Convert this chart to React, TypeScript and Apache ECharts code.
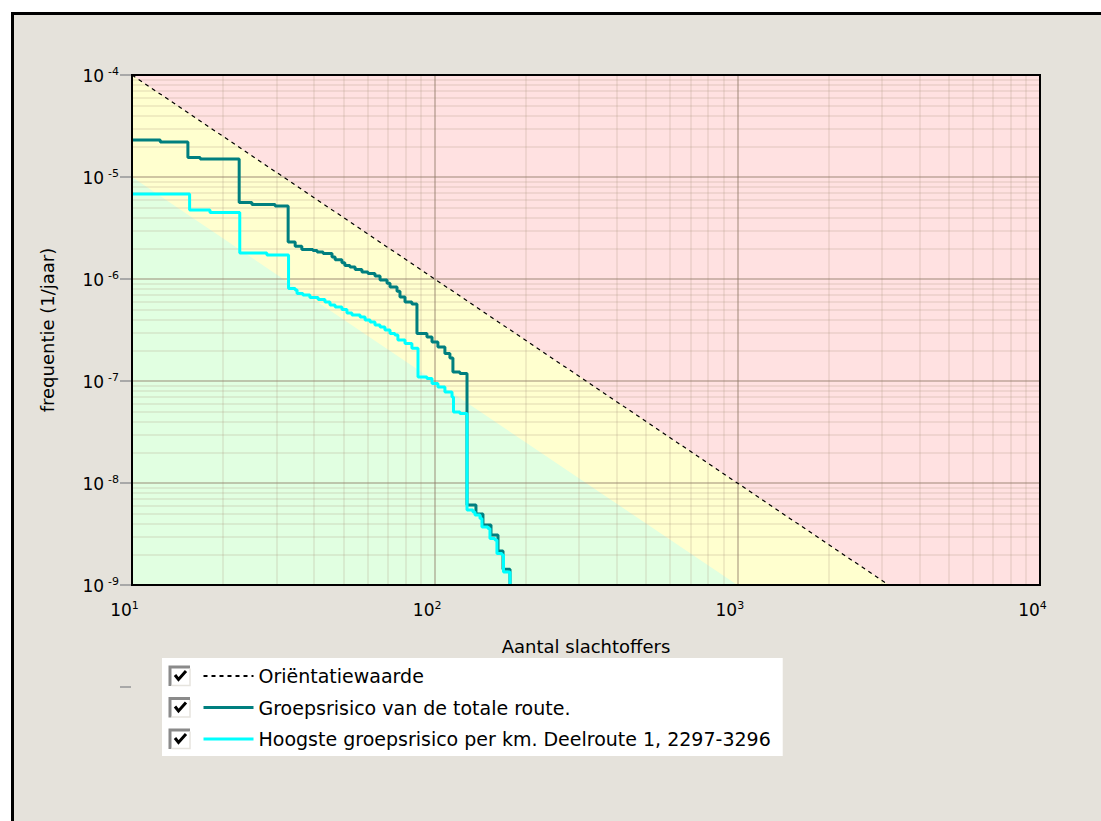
import React, { useEffect, useRef } from "react";
import * as echarts from "echarts";

// Axis ranges (log scale)
const X_MIN = 10;
const X_MAX = 10000;
const Y_MIN = 1e-9;
const Y_MAX = 1e-4;

// Reference lines / zones
const PINK_N = [10, 10000];
const PINK_F = [1e-4, 1e-4];
const ORIENT_N = [10, 3162.28];
const ORIENT_F = [1e-4, 1e-9];
const GREEN_N = [10, 1000];
const GREEN_F = [1e-5, 1e-9];

// Groepsrisico van de totale route (step curve)
const TOTAL_N = [10, 12.4, 15.3, 16.8, 22.6, 24.9, 29.7, 32.8, 34.6, 36.4, 39.6, 40.9, 42.8, 45.8, 46.9, 49.4, 50.5, 52.5, 54.6, 57.5, 60.2, 63.5, 66.0, 69.6, 71.2, 75.1, 76.8, 79.8, 84.1, 87.4, 94.3, 98.0, 102.5, 108.1, 112.3, 114.9, 121.2, 127.9, 136.9, 144.4, 153.5, 161.9, 168.2, 177.4];
const TOTAL_F = [2.31e-5, 2.2e-5, 1.55e-5, 1.5e-5, 5.62e-6, 5.37e-6, 5.2e-6, 2.31e-6, 2.1e-6, 1.95e-6, 1.9e-6, 1.84e-6, 1.78e-6, 1.64e-6, 1.54e-6, 1.44e-6, 1.36e-6, 1.31e-6, 1.24e-6, 1.17e-6, 1.13e-6, 1.07e-6, 9.8e-7, 9.1e-7, 8.35e-7, 7.6e-7, 6.66e-7, 5.95e-7, 5.69e-7, 2.92e-7, 2.7e-7, 2.41e-7, 2.15e-7, 1.86e-7, 1.68e-7, 1.225e-7, 1.185e-7, 6.08e-9, 4.97e-9, 3.88e-9, 3.09e-9, 2.15e-9, 1.43e-9, 1e-9];

// Hoogste groepsrisico per km (step curve)
const KM_N = [10, 15.5, 18.1, 22.7, 27.9, 32.9, 34.6, 35.1, 36.7, 38.7, 41.2, 43.4, 45.1, 46.9, 49.4, 51.3, 53.3, 56.7, 58.9, 61.2, 63.5, 66.0, 68.5, 71.2, 73.9, 75.6, 79.8, 84.1, 88.1, 94.3, 98.0, 102.5, 108.1, 114.1, 115.4, 121.2, 127.9, 133.8, 135.9, 141.2, 143.3, 150.0, 152.3, 158.2, 160.6, 166.9, 168.8, 177.4];
const KM_F = [6.81e-6, 4.75e-6, 4.49e-6, 1.8e-6, 1.72e-6, 8.07e-7, 7.8e-7, 7.21e-7, 6.97e-7, 6.59e-7, 6.3e-7, 5.95e-7, 5.56e-7, 5.31e-7, 5.02e-7, 4.64e-7, 4.44e-7, 4.24e-7, 3.96e-7, 3.79e-7, 3.54e-7, 3.38e-7, 3.16e-7, 2.92e-7, 2.82e-7, 2.52e-7, 2.33e-7, 2.1e-7, 1.094e-7, 1.058e-7, 9.45e-8, 8.73e-8, 7.8e-8, 6.97e-8, 4.97e-8, 4.8e-8, 5.43e-9, 5.2e-9, 4.86e-9, 4.49e-9, 3.7e-9, 3.58e-9, 2.86e-9, 2.76e-9, 2.04e-9, 1.97e-9, 1.34e-9, 1e-9];

// Minor grid multipliers per decade
const MINOR_MULTS = [2, 3, 4, 5, 6, 7, 8, 9];
const X_DECADES = [10, 100, 1000];
const Y_DECADES = [1e-9, 1e-8, 1e-7, 1e-6, 1e-5];

const NAME_ORIENT = "Oriëntatiewaarde";
const NAME_TOTAL = "Groepsrisico van de totale route.";
const NAME_KM = "Hoogste groepsrisico per km. Deelroute 1, 2297-3296";

const FONT = "DejaVu Sans";

export default function App() {
  const ref = useRef<HTMLDivElement>(null);

  useEffect(() => {
    if (!ref.current) return;
    const chart = echarts.init(ref.current, null, { renderer: "svg" });
    const zip = (a: number[], b: number[]) => a.map((v, i) => [v, b[i]]);
    const minorX = X_DECADES.flatMap((d) => MINOR_MULTS.map((m) => m * d));
    const minorY = Y_DECADES.flatMap((d) => MINOR_MULTS.map((m) => m * d));
    const exp = (v: number) => Math.round(Math.log10(v));

    const rowCenters = [676, 707.5, 739];
    const checkboxes = rowCenters.flatMap((c) => [
      { type: "rect", z: 20, silent: true, shape: { x: 169, y: c - 10, width: 21, height: 20 }, style: { fill: "#ffffff" } },
      { type: "polyline", z: 21, silent: true, shape: { points: [[170, c + 10], [170, c - 9], [190, c - 9]] }, style: { stroke: "#8a8a8a", lineWidth: 3, fill: "none" } },
      { type: "polyline", z: 21, silent: true, shape: { points: [[171.5, c + 9.5], [190, c + 9.5], [190, c - 7.5]] }, style: { stroke: "#e6e4de", lineWidth: 1.5, fill: "none" } },
      { type: "polyline", z: 22, silent: true, shape: { points: [[175, c - 1], [178.5, c + 3.5], [186, c - 5]] }, style: { stroke: "#000000", lineWidth: 3, fill: "none" } },
    ]);

    const minorLines = [
      ...minorX.map((v) => [{ coord: [v, Y_MIN] }, { coord: [v, Y_MAX] }]),
      ...minorY.map((v) => [{ coord: [X_MIN, v] }, { coord: [X_MAX, v] }]),
    ];

    const option: any = {
      animation: false,
      backgroundColor: "#ffffff",
      graphic: [
        { type: "rect", z: -10, silent: true, shape: { x: 12.5, y: 13.5, width: 1200, height: 1000 }, style: { fill: "#e5e2db", stroke: "#000000", lineWidth: 3 } },
        { type: "line", z: 6, silent: true, shape: { x1: 120, y1: 687, x2: 131, y2: 687 }, style: { stroke: "#a8a8a8", lineWidth: 2 } },
        ...checkboxes,
      ],
      grid: { left: 132, top: 75, right: 61, bottom: 236, show: true, borderColor: "#000000", borderWidth: 2, backgroundColor: "transparent", z: 10 },
      legend: {
        data: [
          { name: NAME_ORIENT },
          { name: NAME_TOTAL, lineStyle: { width: 3 } },
          { name: NAME_KM, lineStyle: { width: 3 } },
        ],
        orient: "vertical",
        left: 162,
        top: 658,
        backgroundColor: "#ffffff",
        padding: [8, 12, 7, 40],
        itemWidth: 50,
        itemHeight: 20,
        itemGap: 11.5,
        selectedMode: false,
        z: 15,
        itemStyle: { opacity: 0 },
        textStyle: { fontFamily: FONT, fontSize: 19, color: "#000000", lineHeight: 20 },
      },
      xAxis: {
        type: "log",
        logBase: 10,
        min: X_MIN,
        max: X_MAX,
        z: 5,
        axisLine: { show: false },
        axisTick: { show: false },
        splitLine: { show: true, lineStyle: { color: "rgba(140,120,100,0.42)", width: 2 } },
        axisLabel: {
          show: true,
          interval: 0,
          showMinLabel: true,
          showMaxLabel: true,
          margin: 15,
          formatter: (v: number) => `{b|10}{e|${exp(v)}}{p| }`,
          rich: {
            b: { fontFamily: FONT, fontSize: 17, color: "#000", lineHeight: 18, verticalAlign: "bottom" },
            e: { fontFamily: FONT, fontSize: 11, color: "#000", lineHeight: 12, padding: [0, 0, 14, 0], verticalAlign: "top" },
            p: { fontSize: 11, width: 15 },
          },
        },
        name: "Aantal slachtoffers",
        nameLocation: "middle",
        nameGap: 52,
        nameTextStyle: { fontFamily: FONT, fontSize: 18, color: "#000000" },
      },
      yAxis: {
        type: "log",
        logBase: 10,
        min: Y_MIN,
        max: Y_MAX,
        z: 5,
        axisLine: { show: false },
        axisTick: { show: true, length: 12, lineStyle: { color: "#a8a8a8", width: 2 } },
        splitLine: { show: true, lineStyle: { color: "rgba(140,120,100,0.42)", width: 2 } },
        axisLabel: {
          show: true,
          interval: 0,
          showMinLabel: true,
          showMaxLabel: true,
          margin: 13,
          formatter: (v: number) => `{b|10}{e|${exp(v)}}`,
          rich: {
            b: { fontFamily: FONT, fontSize: 17, color: "#000", lineHeight: 18, verticalAlign: "bottom" },
            e: { fontFamily: FONT, fontSize: 11, color: "#000", lineHeight: 12, padding: [0, 0, 10, 4], verticalAlign: "top" },
          },
        },
        name: "frequentie (1/jaar)",
        nameLocation: "middle",
        nameGap: 76,
        nameTextStyle: { fontFamily: FONT, fontSize: 18, color: "#000000" },
      },
      series: [
        {
          name: "_pink",
          type: "line",
          z: 1,
          silent: true,
          symbol: "none",
          data: zip(PINK_N, PINK_F),
          lineStyle: { width: 0 },
          areaStyle: { color: "#ffe1e1", opacity: 1 },
        },
        {
          name: "_yellow",
          type: "line",
          z: 2,
          silent: true,
          symbol: "none",
          data: zip(ORIENT_N, ORIENT_F),
          lineStyle: { width: 0 },
          areaStyle: { color: "#ffffcf", opacity: 1 },
        },
        {
          name: "_green",
          type: "line",
          z: 3,
          silent: true,
          symbol: "none",
          data: zip(GREEN_N, GREEN_F),
          lineStyle: { width: 0 },
          areaStyle: { color: "#e1ffe1", opacity: 1 },
        },
        {
          name: "_minorgrid",
          type: "line",
          z: 4,
          silent: true,
          symbol: "none",
          data: zip(PINK_N, PINK_F),
          lineStyle: { width: 0 },
          markLine: {
            silent: true,
            z: 4,
            symbol: ["none", "none"],
            label: { show: false },
            lineStyle: { color: "rgba(170,150,130,0.18)", width: 2, type: "solid" },
            data: minorLines,
          },
        },
        {
          name: NAME_TOTAL,
          type: "line",
          z: 6,
          step: "end",
          symbol: "none",
          data: zip(TOTAL_N, TOTAL_F),
          lineStyle: { color: "#007f7f", width: 3 },
          itemStyle: { color: "#007f7f" },
        },
        {
          name: NAME_KM,
          type: "line",
          z: 7,
          step: "end",
          symbol: "none",
          data: zip(KM_N, KM_F),
          lineStyle: { color: "#00ffff", width: 3 },
          itemStyle: { color: "#00ffff" },
        },
        {
          name: NAME_ORIENT,
          type: "line",
          z: 8,
          symbol: "none",
          data: zip(ORIENT_N, ORIENT_F),
          lineStyle: { color: "#000000", width: 1.2, type: [4, 4] },
          itemStyle: { color: "#000000" },
        },
      ],
    };

    chart.setOption(option);
    return () => chart.dispose();
  }, []);

  return (
    <div
      ref={ref}
      style={{ position: "fixed", left: 0, top: 0, width: 1101, height: 821 }}
    />
  );
}
